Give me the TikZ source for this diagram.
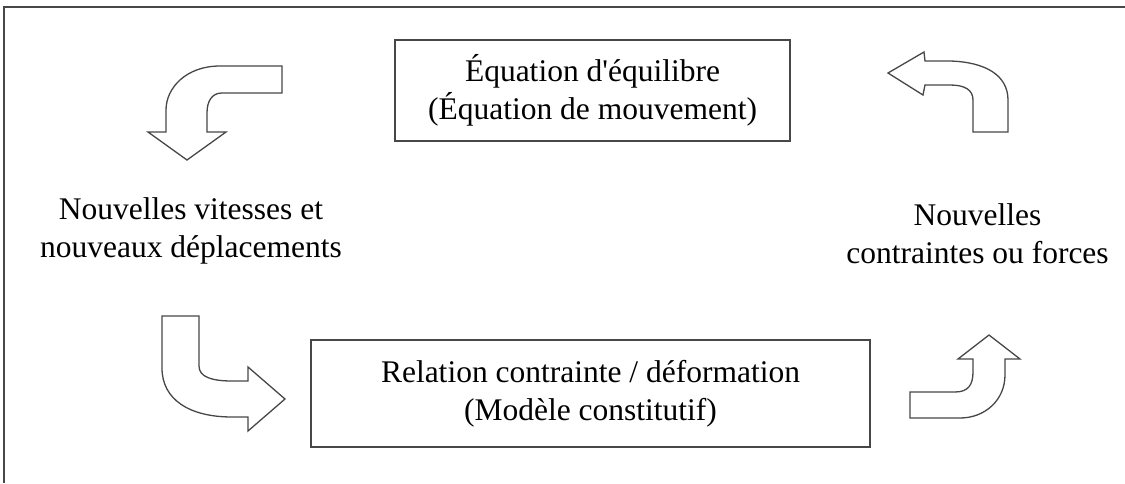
\documentclass[tikz,border=0pt]{standalone}
\usepackage{fontspec}
\setmainfont{Liberation Serif}[Ligatures=TeXOff]
\begin{document}
\begin{tikzpicture}[x=1pt,y=-1pt,
  ink/.style={draw=black!72, line width=1.3pt},
  box/.style={ink, rectangle, inner sep=0pt, align=center,
    font=\fontsize{31.5}{38}\selectfont},
  label/.style={align=center, inner sep=0pt, font=\fontsize{31.5}{38}\selectfont},
  bentarrow/.style={ink, fill=white, line join=miter}]
\useasboundingbox (0,0) rectangle (1125,483);
% outer frame
\draw[ink] (1125,7) -- (4,7) -- (4,483);

% the two process boxes
\node[box, minimum width=395pt, minimum height=101pt] (eq) at (592.5,90.5)
  {Équation d'équilibre\\(Équation de mouvement)};
\node[box, minimum width=559pt, minimum height=107pt] (rel) at (590.5,393.5)
  {Relation contrainte / déformation\\(Modèle constitutif)};

% the two state labels
\node[label] (vit) at (191,231) {Nouvelles vitesses et\\nouveaux déplacements};
\node[label] (frc) at (977.5,234) {Nouvelles\\contraintes ou forces};

% bent block arrows of the cycle
% top left, pointing down
\draw[bentarrow] (282,66) -- (220,66)
  .. controls (186,66) and (166,88) .. (166,110) -- (166,132) -- (148,132)
  -- (187,160) -- (226,132) -- (207,132) -- (207,113)
  .. controls (207,101) and (212,93) .. (222,93) -- (282,93) -- cycle;
% bottom left, pointing right
\draw[bentarrow] (162,316) -- (199,316) -- (199,366)
  .. controls (199,377) and (212,381) .. (232,381) -- (248,381) -- (248,367)
  -- (285,399) -- (248,431) -- (248,417) -- (232,417)
  .. controls (190,417) and (162,400) .. (162,368) -- cycle;
% bottom right, pointing up
\draw[bentarrow] (910,392) -- (955,392)
  .. controls (968,392) and (973,385) .. (973,372) -- (973,359) -- (958,359)
  -- (989,335) -- (1020,359) -- (1005,359) -- (1005,375)
  .. controls (1005,400) and (985,418) .. (960,418) -- (910,418) -- cycle;
% top right, pointing left
\draw[bentarrow] (888,73) -- (924,52) -- (925,61) -- (950,61)
  .. controls (985,62) and (1008,75) .. (1008,100) -- (1008,132) -- (973,132)
  -- (973,100) .. controls (973,90) and (965,85) .. (950,85) -- (925,85)
  -- (923,95) -- cycle;
\end{tikzpicture}
\end{document}
